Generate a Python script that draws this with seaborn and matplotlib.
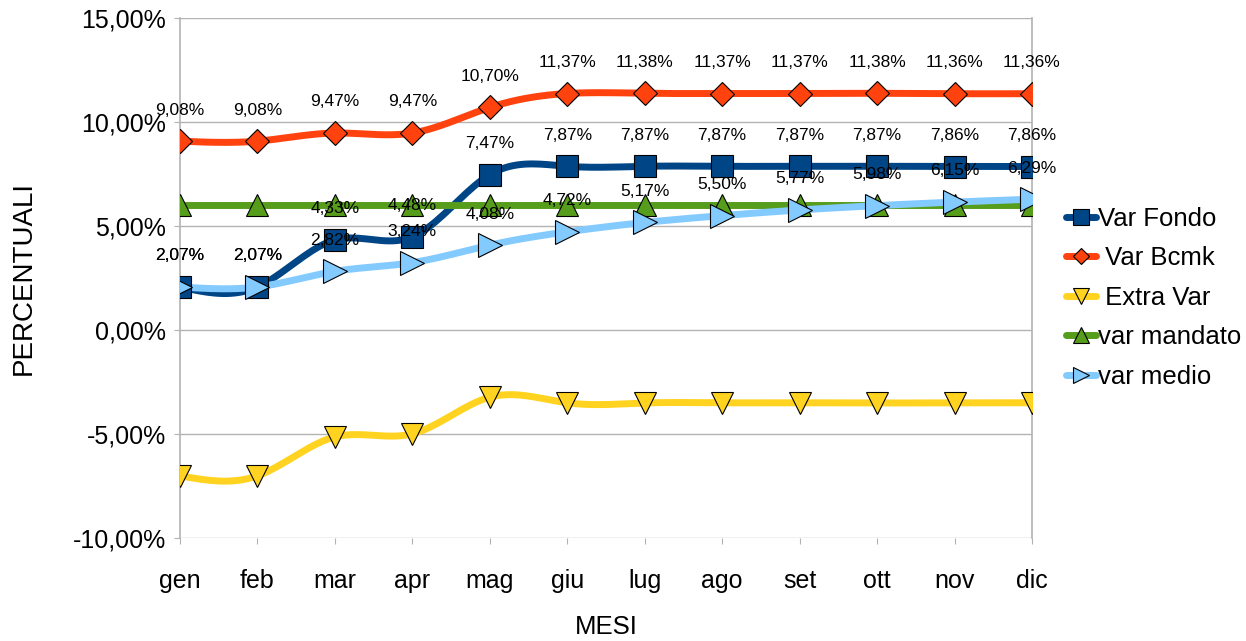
import pandas as pd
from matplotlib import pyplot as plt
from matplotlib.lines import Line2D
import seaborn as sns
import numpy as np

mesi = ['gen', 'feb', 'mar', 'apr', 'mag', 'giu', 'lug', 'ago', 'set', 'ott', 'nov', 'dic']
var_fondo = [2.07, 2.07, 4.33, 4.48, 7.47, 7.87, 7.87, 7.87, 7.87, 7.87, 7.86, 7.86]
var_bcmk = [9.08, 9.08, 9.47, 9.47, 10.70, 11.37, 11.38, 11.37, 11.37, 11.38, 11.36, 11.36]
extra_var = [-7.01, -7.01, -5.14, -4.99, -3.23, -3.50, -3.51, -3.50, -3.50, -3.51, -3.50, -3.50]
var_mandato = [6.0] * 12
var_medio = [2.07, 2.07, 2.82, 3.24, 4.08, 4.72, 5.17, 5.50, 5.77, 5.98, 6.15, 6.29]


def spline(x, y, n=20):
    # spline cubica naturale, solo per disegnare la linea smussata
    x = np.asarray(x, float)
    y = np.asarray(y, float)
    k = len(x)
    h = np.diff(x)
    A = np.zeros((k, k))
    b = np.zeros(k)
    A[0, 0] = A[-1, -1] = 1
    for i in range(1, k - 1):
        A[i, i - 1] = h[i - 1]
        A[i, i] = 2 * (h[i - 1] + h[i])
        A[i, i + 1] = h[i]
        b[i] = 6 * ((y[i + 1] - y[i]) / h[i] - (y[i] - y[i - 1]) / h[i - 1])
    M = np.linalg.solve(A, b)
    xs, ys = [], []
    for i in range(k - 1):
        t = np.linspace(x[i], x[i + 1], n, endpoint=(i == k - 2))
        a, c = x[i + 1] - t, t - x[i]
        s = (M[i] * a ** 3 + M[i + 1] * c ** 3) / (6 * h[i]) \
            + (y[i] / h[i] - M[i] * h[i] / 6) * a + (y[i + 1] / h[i] - M[i + 1] * h[i] / 6) * c
        xs.append(t)
        ys.append(s)
    return np.concatenate(xs), np.concatenate(ys)


sns.set_style('white')
plt.rcParams['font.family'] = ['Liberation Sans', 'DejaVu Sans']
plt.rcParams['text.color'] = 'black'
plt.rcParams['axes.labelcolor'] = 'black'
plt.rcParams['xtick.labelcolor'] = 'black'
plt.rcParams['ytick.labelcolor'] = 'black'

fig = plt.figure(figsize=(12.46, 6.41), dpi=100)
ax = fig.add_axes([180 / 1246, 103 / 641, 852 / 1246, 520 / 641])

x = np.arange(len(mesi))
# (nome legenda, valori, colore, marker, etichette)
serie = [
    ('Var Fondo', var_fondo, '#004586', 's', True),
    (' Var Bcmk', var_bcmk, '#ff420e', 'D', True),
    (' Extra Var', extra_var, '#ffd320', 'v', False),
    ('var mandato', var_mandato, '#579d1c', '^', False),
    ('var medio', var_medio, '#83caff', '>', True),
]
msize = {'s': 16, 'D': 12, 'v': 16, '^': 16, '>': 17}

handles = []
for nome, vals, col, mk, lab in serie:
    xs, ys = spline(x, vals)
    sns.lineplot(x=xs, y=ys, ax=ax, color=col, linewidth=5, sort=False, zorder=3)
    ax.plot(x, vals, linestyle='none', marker=mk, markersize=msize[mk], color=col,
            markeredgecolor='black', markeredgewidth=0.8, zorder=4)
    handles.append(Line2D([], [], color=col, linewidth=5, marker=mk,
                          markersize=msize[mk] * 0.7, markeredgecolor='black',
                          markeredgewidth=0.8, label=nome))

for nome, vals, col, mk, lab in serie:
    if not lab:
        continue
    for xi, v in zip(x, vals):
        ax.annotate(f'{v:.2f}%'.replace('.', ','), (xi, v), xytext=(0, 17),
                    textcoords='offset points', ha='center', va='bottom',
                    fontsize=12.5, color='black', zorder=5)

ax.set_xlim(0, 11)
ax.set_ylim(-10, 15)
ax.set_yticks([-10, -5, 0, 5, 10, 15])
ax.set_yticklabels([f'{t:.2f}%'.replace('.', ',') for t in [-10, -5, 0, 5, 10, 15]])
ax.set_xticks(x)
ax.set_xticklabels(mesi)
ax.tick_params(axis='both', labelsize=18, length=4, color='#b3b3b3', left=True, bottom=True)
ax.tick_params(axis='x', pad=18)
ax.tick_params(axis='y', pad=6)
ax.grid(axis='y', color='#b3b3b3', linewidth=1)
for s in ['top', 'bottom']:
    ax.spines[s].set_visible(False)
for s in ['left', 'right']:
    ax.spines[s].set_color('#b3b3b3')
    ax.spines[s].set_linewidth(1.2)

ax.set_xlabel('MESI', fontsize=18.5, labelpad=16)
ax.set_ylabel('PERCENTUALI', fontsize=20, labelpad=26)

ax.legend(handles=handles, loc='center left', bbox_to_anchor=(1.04, 0.462), frameon=False,
          fontsize=18.5, handlelength=1.15, handletextpad=0.1, labelspacing=0.6,
          borderaxespad=0, borderpad=0)

plt.savefig('out.png', dpi=100)
